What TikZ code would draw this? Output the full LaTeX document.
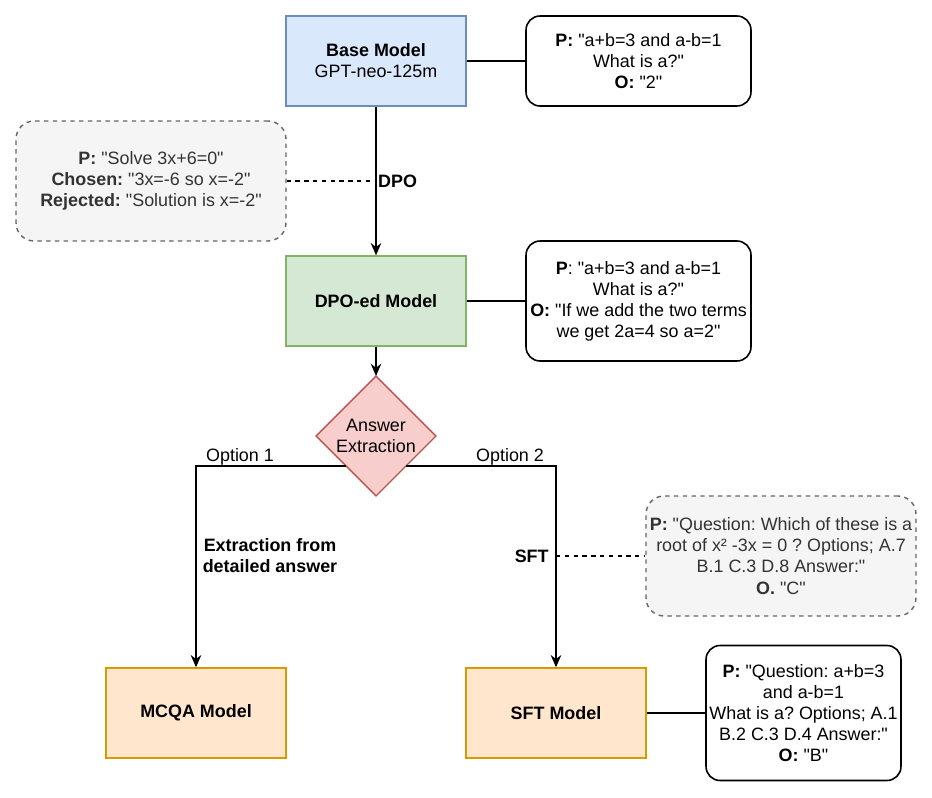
\documentclass[tikz,border=0pt]{standalone}
\usepackage{fontspec}
\setmainfont{Liberation Sans}[Ligatures=TeXOff]
\usepackage{tikz}
\usetikzlibrary{positioning}
\usetikzlibrary{arrows.meta}
\usetikzlibrary{shapes.geometric}

\definecolor{baseFill}{HTML}{DAE8FC}
\definecolor{baseDraw}{HTML}{6C8EBF}
\definecolor{dpoFill}{HTML}{D5E8D4}
\definecolor{dpoDraw}{HTML}{82B366}
\definecolor{ansFill}{HTML}{F8CECC}
\definecolor{ansDraw}{HTML}{B85450}
\definecolor{outFill}{HTML}{FFE6CC}
\definecolor{outDraw}{HTML}{D79B00}
\definecolor{pairFill}{HTML}{F5F5F5}
\definecolor{pairDraw}{HTML}{666666}
\definecolor{pairText}{HTML}{333333}

\newcommand{\diagfont}{\fontsize{10.2}{12}\selectfont\frenchspacing}

\begin{document}
\begin{tikzpicture}[x=0.02cm, y=-0.02cm, font=\diagfont]
    \tikzstyle{model}=[rectangle, draw, line width=0.8pt,
            minimum width=3.6cm, minimum height=1.8cm, inner sep=2pt, align=center]
    \tikzstyle{example}=[rectangle, rounded corners=0.28cm, draw=black, line width=0.9pt,
            minimum width=4.5cm, inner sep=1pt, align=center]
    \tikzstyle{pair}=[rectangle, rounded corners=0.36cm, draw=pairDraw, fill=pairFill,
            text=pairText, line width=0.8pt, dash pattern=on 2.5pt off 2.5pt,
            minimum width=5.4cm, minimum height=2.4cm, inner sep=1pt, align=center]
    \tikzstyle{arr}=[-{Stealth[length=7pt, width=6pt]}, line width=0.8pt]
    \tikzstyle{link}=[line width=0.8pt]
    \tikzstyle{dlink}=[line width=0.8pt, dash pattern=on 2.5pt off 2.5pt]
    \tikzstyle{lbl}=[inner sep=1pt, font=\diagfont\bfseries, align=center]

    \useasboundingbox (0,0) rectangle (932,797);

    \node[model, fill=baseFill, draw=baseDraw] (base) at (376,61)
        {\textbf{Base Model}\\GPT-neo-125m};
    \node[example, minimum height=1.8cm] (baseex) at (638.5,61)
        {\textbf{P:} "a+b=3 and a-b=1\\What is a?"\\\textbf{O:} "2"};

    \node[pair] (dpopair) at (151,181)
        {\textbf{P:} "Solve 3x+6=0"\\\textbf{Chosen:} "3x=-6 so x=-2"\\%
         \textbf{Rejected:} "Solution is x=-2"};

    \node[model, fill=dpoFill, draw=dpoDraw] (dpoed) at (376,301)
        {\textbf{DPO-ed Model}};
    \node[example, minimum height=2.4cm] (dpoex) at (638.5,301)
        {\textbf{P}: "a+b=3 and a-b=1\\What is a?"\\%
         \textbf{O:} "If we add the two terms\\we get 2a=4 so a=2"};

    \node[diamond, aspect=1, fill=ansFill, draw=ansDraw, line width=0.8pt,
        minimum width=2.4cm, minimum height=2.4cm, inner sep=0pt, outer sep=0pt,
        align=center] (ans) at (376,436) {Answer\\Extraction};

    \node[model, fill=outFill, draw=outDraw] (mcqa) at (196,713) {\textbf{MCQA Model}};
    \node[model, fill=outFill, draw=outDraw] (sft) at (556,713) {\textbf{SFT Model}};

    \node[pair] (sftpair) at (781,556)
        {\textbf{P:} "Question: Which of these is a\\root of x² -3x = 0 ? Options; A.7\\%
         B.1 C.3 D.8 Answer:"\\\textbf{O.} "C"};
    \node[example, minimum width=3.9cm, minimum height=2.7cm] (sftex) at (803.5,713)
        {\textbf{P:} "Question: a+b=3\\and a-b=1\\What is a? Options; A.1\\%
         B.2 C.3 D.4 Answer:"\\\textbf{O:} "B"};

    \draw[link] (base) -- (baseex);
    \draw[arr] (base) -- coordinate (dpomid) (dpoed);
    \node[lbl, right] (dpolbl) at (dpomid) {DPO};
    \draw[dlink] (dpopair) -- (dpomid);

    \draw[link] (dpoed) -- (dpoex);
    \draw[arr] (dpoed) -- (ans);

    \draw[arr] (ans.south west) -| (mcqa);
    \draw[arr] (ans.south east) -| (sft);
    \node[inner sep=1pt] (opt1) at (240,457) {Option 1};
    \node[inner sep=1pt] (opt2) at (510,457) {Option 2};

    \node[lbl] (extlbl) at (270,556) {Extraction from\\detailed answer};
    \coordinate (sftmid) at (556,556);
    \node[lbl, left=3pt] (sftlbl) at (sftmid) {SFT};
    \draw[dlink] (sftmid) -- (sftpair);

    \draw[link] (sft) -- (sftex);
\end{tikzpicture}
\end{document}
